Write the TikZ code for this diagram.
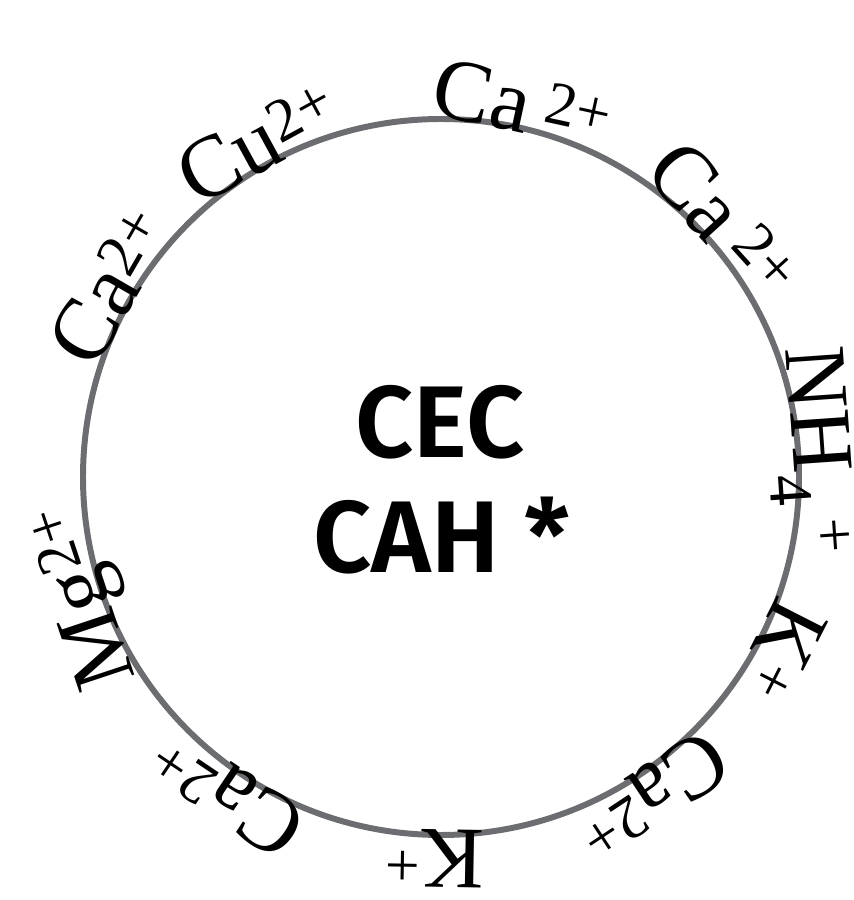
\documentclass[tikz,border=0pt]{standalone}
\usepackage{fontspec}
\setmainfont{Liberation Serif}
\newfontfamily\cecfont[BoldFont={Fira Sans SemiBold}]{Fira Sans}
\usetikzlibrary{calc}
\definecolor{ringgray}{RGB}{108,109,113}
\newcommand{\chg}[1]{\textsuperscript{#1}}
\tikzset{
    ring/.style={draw=ringgray,line width=3.4pt},
    ionlabel/.style={anchor=base,inner sep=0pt,font=\fontsize{50}{60}\selectfont},
    cectext/.style={anchor=base,inner sep=0pt,font=\cecfont\bfseries\fontsize{58}{66}\selectfont}
}

\begin{document}
\begin{tikzpicture}
  \useasboundingbox (0,0) rectangle (17.08,18);
  \coordinate (O) at (8.82,8.46);
  \draw[ring] (O) circle (7.16);
  % ions round the ring, read clockwise
  \foreach \ang/\txt [count=\i] in {77.7/{Ca\,\chg{2+}},42.2/{Ca\,\chg{2+}},4/{NH\textsubscript{4}\,\chg{+}},
      -27/{K\chg{+}},-56.5/{Ca\chg{2+}},-91/{K\chg{+}},-124/{Ca\chg{2+}},
      198.4/{Mg\chg{2+}},150/{Ca\chg{2+}},118.6/{Cu\chg{2+}}}{
    \node[ionlabel,rotate=\ang-90] (ion\i) at ($(O)+(\ang:7.06)$) {\txt};
  }
  \node[cectext] (cec) at (8.8,8.84) {CEC};
  \node[cectext] (cah) at (8.84,6.54) {CAH *};
\end{tikzpicture}
\end{document}
